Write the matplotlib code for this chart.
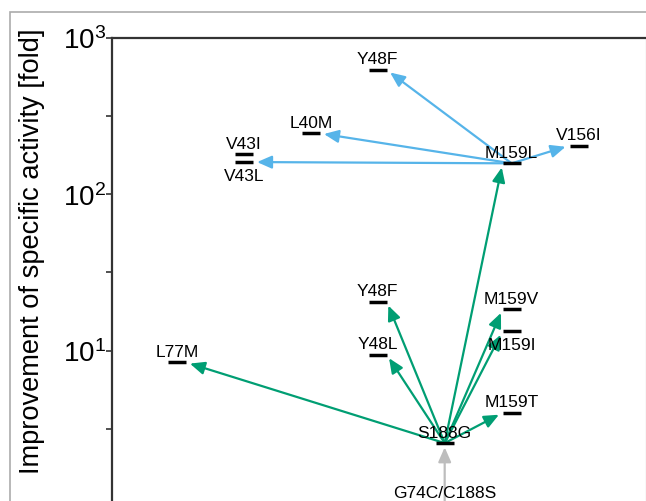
import matplotlib
matplotlib.use('Agg')
import matplotlib.pyplot as plt
import matplotlib.transforms as mtransforms
from matplotlib.patches import Rectangle

# variants: label, column on the x layout, improvement [fold]
node_labels = ["G74C/C188S", "S188G", "L77M", "Y48L", "Y48F", "M159T", "M159I",
               "M159V", "M159L", "V43L", "V43I", "L40M", "Y48F", "V156I"]
node_cols = [5, 5, 1, 4, 4, 6, 6, 6, 6, 2, 2, 3, 4, 7]
node_fold = [1.05, 2.56, 8.4, 9.4, 20.5, 4.0, 13.3, 18.4, 157, 160, 180, 244, 620, 204]
labels_below = {"V43L", "M159I"}

# arrows parent -> child, with the round of evolution
edge_from = [0, 1, 1, 1, 1, 1, 1, 1, 8, 8, 8, 8]
edge_to = [1, 2, 3, 4, 5, 6, 7, 8, 9, 11, 12, 13]
edge_round = [0, 1, 1, 1, 1, 1, 1, 1, 2, 2, 2, 2]
round_colors = ['#BDBDBD', '#009E73', '#56B4E9']

plt.rcParams['font.family'] = ['Liberation Sans', 'DejaVu Sans']
plt.rcParams['mathtext.fontset'] = 'custom'
plt.rcParams['mathtext.rm'] = 'Liberation Sans'

W, H = 646, 502
fig = plt.figure(figsize=(W / 100, H / 100), dpi=100)

# grey frame of the original panel (cropped at right and bottom)
fig.add_artist(Rectangle((9.5 / W, -0.2), 1.2, 1.2 - 13 / H, transform=fig.transFigure,
                         facecolor='none', edgecolor='#ababab', linewidth=1.2))

ax = fig.add_axes([112 / W, -6 / H, (645.5 - 112) / W, (508 - 38.5) / H])
ax.set_yscale('log')
ax.set_ylim(1, 1000)
ax.set_xlim(2 / 67, 536 / 67)

for side in ['top', 'left']:
    ax.spines[side].set_color('#333333')
    ax.spines[side].set_linewidth(1.6)
ax.spines['right'].set_color('#dedede')
ax.spines['right'].set_linewidth(1.0)
ax.spines['bottom'].set_visible(False)

ax.set_xticks([])
ax.set_yticks([10, 100, 1000])
ax.set_yticks([10 ** 0.5, 10 ** 1.5, 10 ** 2.5], minor=True)
ax.yaxis.set_minor_formatter(plt.NullFormatter())
ax.tick_params(axis='y', which='both', direction='out', length=4, width=1.2,
               color='#333333', labelsize=20, pad=0)

ax.set_ylabel('Improvement of specific activity [fold]', fontsize=19.6)
ax.yaxis.label.set_verticalalignment('center')
ax.yaxis.set_label_coords((32 - 112) / 533.5, (508 - 251) / 469.5)

# arrows
for a, b, r in zip(edge_from, edge_to, edge_round):
    xa, ya = node_cols[a], node_fold[a]
    xb, yb = node_cols[b], node_fold[b]
    dx = 0 if xa == xb else (9 if xa > xb else -9)
    tr = mtransforms.offset_copy(ax.transData, fig=fig, x=dx, y=0, units='dots')
    ax.annotate('', xy=(xb, yb), xycoords=tr, xytext=(xa, ya), textcoords='data',
                arrowprops=dict(arrowstyle='-|>,head_length=0.8,head_width=0.35',
                                mutation_scale=11, color=round_colors[r],
                                lw=1.6, shrinkA=0, shrinkB=3),
                annotation_clip=False)

# variant bars and labels
ax.plot(node_cols, node_fold, ls='none', marker='_', ms=13, mew=2.5, color='black',
        clip_on=False, zorder=5)
for lab, x, y in zip(node_labels, node_cols, node_fold):
    if lab in labels_below:
        ax.annotate(lab, (x, y), xytext=(0, -4.5), textcoords='offset points',
                    ha='center', va='top', fontsize=12.5)
    else:
        ax.annotate(lab, (x, y), xytext=(0, 4.7), textcoords='offset points',
                    ha='center', va='baseline', fontsize=12.5)

fig.savefig('out.png', dpi=100)
